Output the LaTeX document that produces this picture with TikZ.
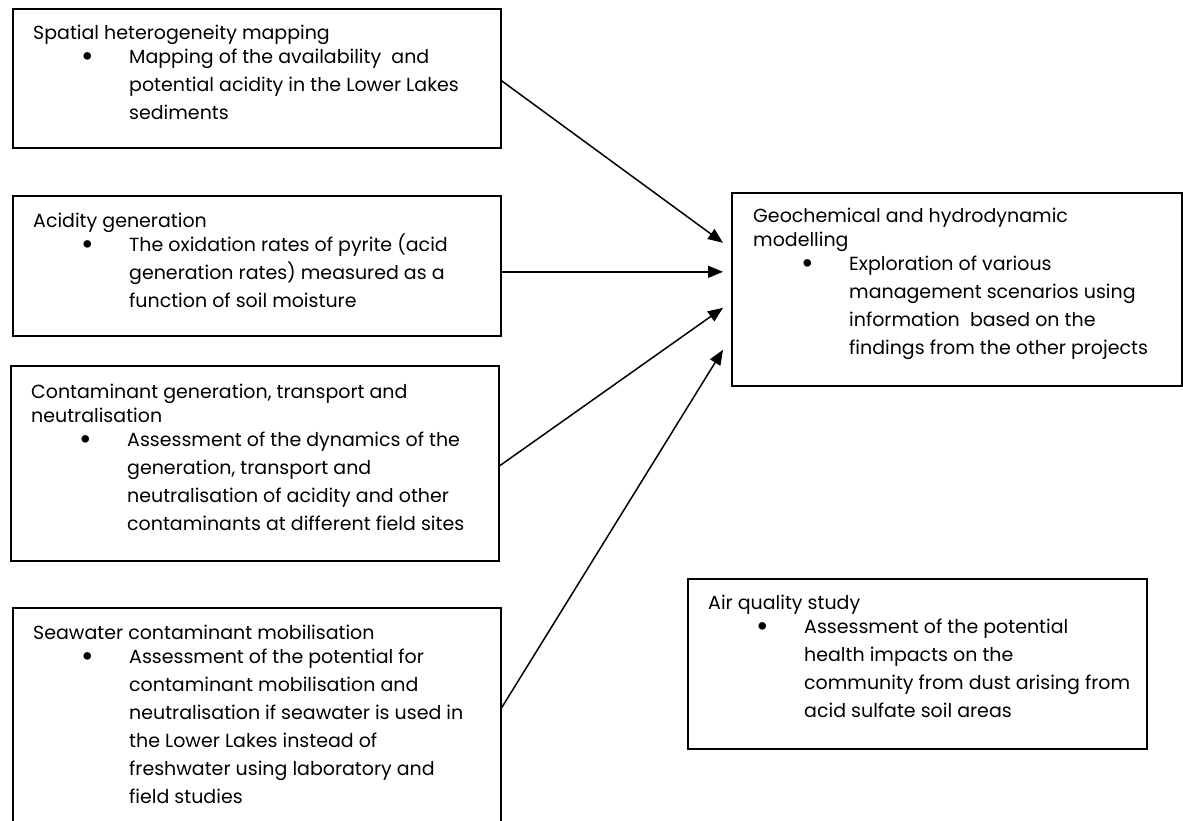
\documentclass[tikz,border=0pt]{standalone}
\usepackage{fontspec}
\setmainfont{Poppins}
\usetikzlibrary{arrows.meta}
\newcommand{\projtext}[2]{\parbox[t]{470pt}{\raggedright #1\par\hspace*{48pt}\makebox[48pt][l]{\raisebox{-3.5pt}{\scalebox{1.6}{\textbullet}}}\parbox[t]{420pt}{\raggedright\fontsize{19}{28}\selectfont #2}}}
\begin{document}
\begin{tikzpicture}[x=1pt, y=-1pt,
				projbox/.style={draw, line width=1.6pt, anchor=north west, inner sep=0pt},
				projtxt/.style={anchor=base west, inner sep=0pt, font=\fontsize{19}{24}\selectfont},
				conn/.style={-{Triangle[length=15pt, width=12pt]}, line width=1.5pt}]
				\useasboundingbox (0,0) rectangle (1183,820);
				\node[projbox, minimum width=488pt, minimum height=139pt] (spatial)  at (12,8)   {};
				\node[projbox, minimum width=488pt, minimum height=140pt] (acidity)  at (12,195) {};
				\node[projbox, minimum width=488pt, minimum height=195pt] (contam)   at (10,365) {};
				\node[projbox, minimum width=488pt, minimum height=230pt] (seawater) at (12,607) {};
				\node[projbox, minimum width=450pt, minimum height=193pt] (geo)      at (731,192) {};
				\node[projbox, minimum width=459pt, minimum height=170pt] (air)      at (687,578) {};
				\node[projtxt] (spatialtxt) at ([shift={(21,31)}]spatial.north west) {\projtext{Spatial heterogeneity mapping}{Mapping of the availability\ \ and\\ potential acidity in the Lower Lakes\\ sediments}};
				\node[projtxt] (aciditytxt) at ([shift={(21,32)}]acidity.north west) {\projtext{Acidity generation}{The oxidation rates of pyrite (acid\\ generation rates) measured as a\\ function of soil moisture}};
				\node[projtxt] (contamtxt) at ([shift={(21,33)}]contam.north west) {\projtext{Contaminant generation, transport and\\ neutralisation}{Assessment of the dynamics of the\\ generation, transport and\\ neutralisation of acidity and other\\ contaminants at different field sites}};
				\node[projtxt] (seawatertxt) at ([shift={(21,32)}]seawater.north west) {\projtext{Seawater contaminant mobilisation}{Assessment of the potential for\\ contaminant mobilisation and\\ neutralisation if seawater is used in\\ the Lower Lakes instead of\\ freshwater using laboratory and\\ field studies}};
				\node[projtxt] (geotxt) at ([shift={(22,30)}]geo.north west) {\projtext{Geochemical and hydrodynamic\\ modelling}{Exploration of various\\ management scenarios using\\ information\ \ based on the\\ findings from the other projects}};
				\node[projtxt] (airtxt) at ([shift={(21,31)}]air.north west) {\projtext{Air quality study}{Assessment of the potential\\ health impacts on the\\ community from dust arising from\\ acid sulfate soil areas}};
				\draw[conn] ([yshift=-2.5pt]spatial.east) -- ([xshift=-8pt, yshift=46.5pt]geo.west);
				\draw[conn] ([yshift=-6pt]acidity.east) -- ([xshift=-8pt, yshift=17.5pt]geo.west);
				\draw[conn] ([yshift=-2.5pt]contam.east) -- ([xshift=-8pt, yshift=-18.5pt]geo.west);
				\draw[conn] ([yshift=15pt]seawater.east) -- ([xshift=-8pt, yshift=-60.5pt]geo.west);
			\end{tikzpicture}
\end{document}
